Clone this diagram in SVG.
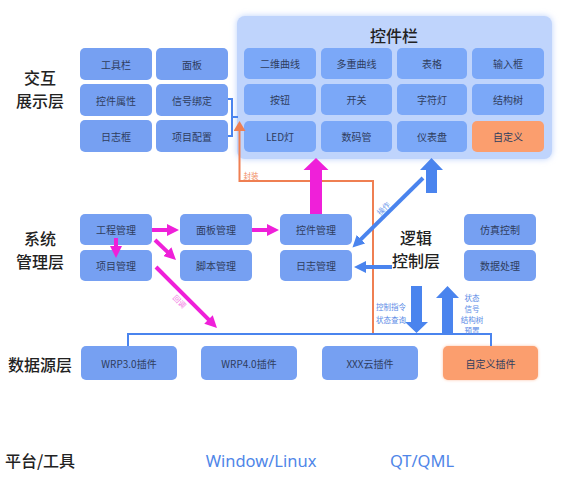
<svg xmlns="http://www.w3.org/2000/svg" width="568" height="488" viewBox="0 0 568 488">
<style>
.n{fill:#76a0f2}
.p{fill:#7ba8f8}
.o{fill:#fb9e6e}
.t{font-family:"Noto Sans CJK SC","Noto Sans",sans-serif;font-size:10px;fill:#2f3d5e;text-anchor:middle;dominant-baseline:central}
.L{font-family:"Noto Sans CJK SC","Noto Sans",sans-serif;font-size:16px;font-weight:500;fill:#222222;text-anchor:middle;dominant-baseline:central}
.s{font-family:"Noto Sans CJK SC","Noto Sans",sans-serif;font-size:7.5px;text-anchor:middle;dominant-baseline:central}
.pk{stroke:#ef20d9;stroke-width:4;fill:none}
.bl{stroke:#4a84ee;fill:none}
.pl{font-family:"Noto Sans","Noto Sans CJK SC",sans-serif;font-size:16.5px;fill:#4f86e8;text-anchor:middle;dominant-baseline:central}
</style>
<defs>
<filter id="glow" x="-10%" y="-15%" width="120%" height="130%">
<feGaussianBlur in="SourceAlpha" stdDeviation="4"/>
<feFlood flood-color="#b4ccfb" flood-opacity="0.9"/>
<feComposite operator="in" in2="SourceAlpha"/>
<feGaussianBlur stdDeviation="3"/>
<feMerge><feMergeNode/><feMergeNode in="SourceGraphic"/></feMerge>
</filter>
<filter id="oglow" x="-15%" y="-30%" width="130%" height="160%">
<feGaussianBlur in="SourceAlpha" stdDeviation="2"/>
<feFlood flood-color="#fbb48f" flood-opacity="0.8"/>
<feComposite operator="in" in2="SourceAlpha"/>
<feGaussianBlur stdDeviation="1.5"/>
<feMerge><feMergeNode/><feMergeNode in="SourceGraphic"/></feMerge>
</filter>
<marker id="mpk" viewBox="0 0 12 12" refX="1" refY="6" markerWidth="12" markerHeight="12" markerUnits="userSpaceOnUse" orient="auto"><path d="M0,0 L12,6 L0,12 z" fill="#ef20d9"/></marker>
<marker id="mbl" viewBox="0 0 12 12" refX="1" refY="6" markerWidth="12" markerHeight="12" markerUnits="userSpaceOnUse" orient="auto"><path d="M0,0 L12,6 L0,12 z" fill="#4a84ee"/></marker>
<marker id="mor" viewBox="0 0 10 12" refX="1" refY="6" markerWidth="10" markerHeight="12" markerUnits="userSpaceOnUse" orient="auto"><path d="M0,0 L10,6 L0,12 z" fill="#ef7f52"/></marker>
</defs>
<rect width="568" height="488" fill="#ffffff"/>

<!-- layer labels -->
<text class="L" x="40" y="77">交互</text>
<text class="L" x="40" y="100">展示层</text>
<text class="L" x="40" y="238">系统</text>
<text class="L" x="40" y="261">管理层</text>
<text class="L" x="40" y="364">数据源层</text>
<text class="L" x="40" y="460">平台/工具</text>
<text class="L" x="416" y="237">逻辑</text>
<text class="L" x="416" y="260">控制层</text>
<text class="pl" x="261" y="460">Window/Linux</text>
<text class="pl" x="422" y="460">QT/QML</text>

<!-- control panel -->
<g id="panel">
<rect x="237" y="16" width="315" height="143" rx="8" fill="#bfd4fc" filter="url(#glow)"/>
<text class="L" x="394" y="35">控件栏</text>
</g>
<g id="p1"><rect class="p" x="244" y="48" width="72" height="31" rx="5"/><text class="t" x="280" y="63.5">二维曲线</text></g>
<g id="p2"><rect class="p" x="321" y="48" width="71" height="31" rx="5"/><text class="t" x="356.5" y="63.5">多重曲线</text></g>
<g id="p3"><rect class="p" x="397" y="48" width="70" height="31" rx="5"/><text class="t" x="432" y="63.5">表格</text></g>
<g id="p4"><rect class="p" x="472" y="48" width="72" height="31" rx="5"/><text class="t" x="508" y="63.5">输入框</text></g>
<g id="p5"><rect class="p" x="244" y="84" width="72" height="31" rx="5"/><text class="t" x="280" y="99.5">按钮</text></g>
<g id="p6"><rect class="p" x="321" y="84" width="71" height="31" rx="5"/><text class="t" x="356.5" y="99.5">开关</text></g>
<g id="p7"><rect class="p" x="397" y="84" width="70" height="31" rx="5"/><text class="t" x="432" y="99.5">字符灯</text></g>
<g id="p8"><rect class="p" x="472" y="84" width="72" height="31" rx="5"/><text class="t" x="508" y="99.5">结构树</text></g>
<g id="p9"><rect class="p" x="244" y="121" width="72" height="31" rx="5"/><text class="t" x="280" y="136.5">LED灯</text></g>
<g id="p10"><rect class="p" x="321" y="121" width="71" height="31" rx="5"/><text class="t" x="356.5" y="136.5">数码管</text></g>
<g id="p11"><rect class="p" x="397" y="121" width="70" height="31" rx="5"/><text class="t" x="432" y="136.5">仪表盘</text></g>
<g id="p12"><rect class="o" x="472" y="121" width="72" height="31" rx="5"/><text class="t" x="508" y="136.5">自定义</text></g>

<!-- interaction layer -->
<g id="toolbar"><rect class="n" x="80" y="48" width="72" height="32" rx="5"/><text class="t" x="116" y="64">工具栏</text></g>
<g id="panelui"><rect class="n" x="156" y="48" width="72" height="32" rx="5"/><text class="t" x="192" y="64">面板</text></g>
<g id="ctrlprop"><rect class="n" x="80" y="84" width="72" height="32" rx="5"/><text class="t" x="116" y="100">控件属性</text></g>
<g id="sigbind"><rect class="n" x="156" y="84" width="72" height="32" rx="5"/><text class="t" x="192" y="100">信号绑定</text></g>
<g id="logbox"><rect class="n" x="80" y="120" width="72" height="32" rx="5"/><text class="t" x="116" y="136">日志框</text></g>
<g id="projcfg"><rect class="n" x="156" y="120" width="72" height="32" rx="5"/><text class="t" x="192" y="136">项目配置</text></g>

<!-- system layer -->
<g id="engmgr"><rect class="n" x="80" y="214" width="72" height="31" rx="5"/><text class="t" x="116" y="229.5">工程管理</text></g>
<g id="projmgr"><rect class="n" x="80" y="250" width="72" height="31" rx="5"/><text class="t" x="116" y="265.5">项目管理</text></g>
<g id="panelmgr"><rect class="n" x="180" y="214" width="72" height="31" rx="5"/><text class="t" x="216" y="229.5">面板管理</text></g>
<g id="scriptmgr"><rect class="n" x="180" y="250" width="72" height="31" rx="5"/><text class="t" x="216" y="265.5">脚本管理</text></g>
<g id="ctrlmgr"><rect class="n" x="280" y="214" width="72" height="31" rx="5"/><text class="t" x="316" y="229.5">控件管理</text></g>
<g id="logmgr"><rect class="n" x="280" y="250" width="72" height="31" rx="5"/><text class="t" x="316" y="265.5">日志管理</text></g>
<g id="simctrl"><rect class="n" x="464" y="214" width="72" height="31" rx="5"/><text class="t" x="500" y="229.5">仿真控制</text></g>
<g id="dataproc"><rect class="n" x="464" y="250" width="72" height="31" rx="5"/><text class="t" x="500" y="265.5">数据处理</text></g>

<!-- data source layer -->
<g id="wrp3"><rect class="n" x="81" y="346" width="96" height="34" rx="5"/><text class="t" x="129" y="363">WRP3.0插件</text></g>
<g id="wrp4"><rect class="n" x="201" y="346" width="96" height="34" rx="5"/><text class="t" x="249" y="363">WRP4.0插件</text></g>
<g id="xxx"><rect class="n" x="322" y="346" width="96" height="34" rx="5"/><text class="t" x="370" y="363">XXX云插件</text></g>
<g id="custplug"><rect class="o" x="443" y="346" width="95" height="34" rx="5" filter="url(#oglow)"/><text class="t" x="490.5" y="363">自定义插件</text></g>

<!-- connectors -->
<g id="connectors">
<path class="bl" stroke-width="2" d="M228,99 H232 V136 H228 M232,117 H238"/>
<path d="M373,334 V181 H239.5 V130" stroke="#ef7f52" stroke-width="2" fill="none" marker-end="url(#mor)"/>
<text class="s" x="251" y="175" fill="#f08a5d">封装</text>
<path class="bl" stroke-width="2" d="M128,346 V334 H491 V346"/>
<path class="pk" d="M152,230 H168" marker-end="url(#mpk)"/>
<path class="pk" d="M252,230 H268" marker-end="url(#mpk)"/>
<path class="pk" d="M116,238 V247" marker-end="url(#mpk)"/>
<path class="pk" d="M155,240 L168,252.4" marker-end="url(#mpk)"/>
<path class="pk" d="M156,267 L209.2,320.2" marker-end="url(#mpk)"/>
<text class="s" x="180" y="301" fill="#f27ee4" transform="rotate(45 180 301)">回调</text>
<polygon points="310,214 310,170 303.5,170 316,158 328.5,170 322,170 322,214" fill="#ef20d9"/>
<polygon points="426,193 426,170 420,170 431.5,158 443,170 437,170 437,193" fill="#4a84ee"/>
<path class="bl" stroke-width="4" d="M423,178 L360.3,239.8" marker-end="url(#mbl)"/>
<text class="s" x="383" y="208" fill="#6f9bec" transform="rotate(-45 383 208)">操作</text>
<path class="bl" stroke-width="4" d="M392,267 H365" marker-end="url(#mbl)"/>
<polygon points="411,286 422,286 422,322 428,322 416.5,333 405,322 411,322" fill="#4a84ee"/>
<polygon points="442,334 442,298 436,298 447.5,286 459,298 453,298 453,334" fill="#4a84ee"/>
<text class="s" x="391" y="306" fill="#5b8be6">控制指令</text>
<text class="s" x="391" y="319" fill="#5b8be6">状态查询</text>
<text class="s" x="472" y="297" fill="#5b8be6">状态</text>
<text class="s" x="472" y="308" fill="#5b8be6">信号</text>
<text class="s" x="472" y="319" fill="#5b8be6">结构树</text>
<text class="s" x="472" y="330" fill="#5b8be6">预置</text>
</g>
</svg>
